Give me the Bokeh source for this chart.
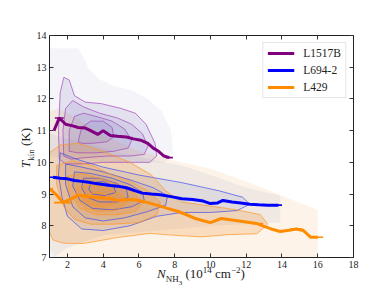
from bokeh.plotting import figure
from bokeh.models import Range1d, LinearAxis, Legend, LegendItem, Div
from bokeh.layouts import row, column
from bokeh.embed import file_html
from bokeh.resources import INLINE

# ---------------- data ----------------
series_names = ["L1517B", "L694-2", "L429"]

# median T_kin vs N_NH3
l1517b_x = [1.25, 1.55, 1.9, 2.3, 2.6, 3.0, 3.3, 3.7, 4.0, 4.4, 4.8, 5.3, 5.7, 6.1, 6.5, 6.8, 7.1, 7.4, 7.7]
l1517b_y = [11.0, 11.4, 11.2, 11.15, 11.1, 11.08, 11.0, 10.88, 11.0, 10.85, 10.82, 10.8, 10.74, 10.7, 10.6, 10.45, 10.35, 10.2, 10.15]

l694_x = [1.2, 1.6, 2.0, 2.4, 2.8, 3.2, 3.6, 4.0, 4.4, 4.8, 5.3, 5.8, 6.2, 6.7, 7.2, 7.8, 8.4, 9.0,
          9.6, 10.0, 10.4, 10.7, 11.2, 11.7, 12.2, 12.7, 13.2, 13.8]
l694_y = [9.53, 9.5, 9.48, 9.43, 9.4, 9.37, 9.33, 9.3, 9.27, 9.25, 9.2, 9.1, 9.03, 9.0, 8.98, 8.92, 8.85, 8.83,
          8.78, 8.7, 8.72, 8.8, 8.75, 8.72, 8.68, 8.66, 8.65, 8.65]

l429_x = [1.0, 1.35, 1.75, 2.2, 2.6, 3.0, 3.5, 4.0, 4.4, 4.8, 5.2, 5.7, 6.1, 6.5, 7.0, 7.6, 8.2, 8.7, 9.2,
          9.6, 10.0, 10.6, 11.0, 11.5, 12.0, 12.6, 13.0, 13.4, 13.9, 14.4, 14.8, 15.2, 15.6, 16.0]
l429_y = [9.17, 9.0, 8.73, 8.85, 8.96, 8.93, 8.9, 8.88, 8.86, 8.8, 8.82, 8.83, 8.78, 8.73, 8.65, 8.55, 8.45, 8.34, 8.22,
          8.16, 8.1, 8.23, 8.2, 8.16, 8.12, 8.07, 7.98, 7.9, 7.82, 7.86, 7.9, 7.85, 7.64, 7.64]

# visible horizontal error bars (centre x, centre y, half width)
l1517b_err_x = [1.55, 7.7]
l1517b_err_y = [11.4, 10.15]
l1517b_err_w = [0.25, 0.2]
l694_err_x = [1.2, 13.8]
l694_err_y = [9.53, 8.65]
l694_err_w = [0.2, 0.2]
l429_err_x = [1.0, 1.75, 12.6, 14.8, 16.0]
l429_err_y = [9.17, 8.73, 8.07, 7.9, 7.64]
l429_err_w = [0.2, 0.5, 0.35, 0.35, 0.3]

# density envelopes (outermost, unlined)
l1517b_env_x = [1.0, 2.6, 2.85, 3.2, 3.75, 4.5, 5.65, 6.5, 7.3, 7.8, 7.9, 7.5, 4.0, 1.0]
l1517b_env_y = [13.6, 13.6, 13.35, 12.95, 12.64, 12.42, 12.26, 12.0, 11.6, 11.0, 10.3, 10.0, 10.0, 10.2]
l694_env_x = [1.0, 3.0, 5.0, 7.0, 8.4, 10.0, 12.0, 13.9, 13.9, 12.0, 10.0, 8.0, 6.0, 4.0, 2.0, 1.2, 1.0]
l694_env_y = [10.9, 10.6, 10.3, 10.05, 9.9, 9.6, 9.2, 8.95, 8.1, 8.05, 8.0, 7.9, 7.8, 7.7, 7.3, 7.0, 7.0]
l429_env_x = [1.0, 1.5, 2.5, 4.0, 6.0, 8.0, 10.0, 12.0, 14.0, 16.0, 16.0, 1.3, 1.0]
l429_env_y = [11.6, 11.7, 11.4, 10.85, 10.35, 10.05, 9.8, 9.4, 8.95, 8.5, 7.0, 7.0, 7.3]

# density contours (outer -> inner)
l1517b_cx = [
    [1.55, 1.5, 1.6, 1.8, 2.1, 2.4, 3.0, 3.9, 5.0, 5.8, 6.4, 6.9, 7.0, 6.6, 5.5, 4.0, 2.8, 1.9],
    [1.8, 1.75, 1.9, 2.3, 2.9, 3.8, 4.8, 5.6, 6.2, 6.5, 6.3, 5.5, 4.3, 3.0, 2.2],
    [2.1, 2.1, 2.4, 2.9, 3.6, 4.5, 5.2, 5.6, 5.4, 4.6, 3.6, 2.6],
    [2.6, 2.8, 3.3, 4.0, 4.5, 4.6, 4.2, 3.4, 2.8],
]
l1517b_cy = [
    [10.1, 11.0, 12.2, 12.68, 12.6, 12.1, 11.9, 11.85, 11.7, 11.55, 11.2, 10.6, 10.2, 10.0, 10.0, 10.0, 9.95, 9.95],
    [10.2, 11.0, 11.7, 11.95, 11.75, 11.55, 11.4, 11.2, 10.9, 10.5, 10.25, 10.2, 10.2, 10.15, 10.1],
    [10.35, 11.0, 11.45, 11.55, 11.45, 11.3, 11.05, 10.7, 10.45, 10.35, 10.3, 10.3],
    [10.65, 11.1, 11.3, 11.3, 11.1, 10.8, 10.65, 10.6, 10.6],
]
l694_cx = [
    [1.6, 2.5, 4.0, 6.0, 8.4, 10.5, 11.8, 12.2, 11.5, 10.0, 8.4, 7.0, 5.5, 4.0, 2.8, 2.0, 1.7, 1.5],
    [1.9, 2.8, 4.0, 5.5, 6.8, 7.6, 7.5, 6.5, 5.2, 4.0, 3.0, 2.3, 1.9],
    [2.4, 3.3, 4.5, 5.5, 6.2, 6.3, 5.6, 4.5, 3.4, 2.7, 2.3],
    [2.9, 3.8, 4.7, 5.3, 5.4, 4.8, 3.8, 3.1, 2.8],
    [3.3, 4.0, 4.6, 4.7, 4.1, 3.4, 3.2],
]
l694_cy = [
    [10.3, 10.1, 9.85, 9.6, 9.36, 9.1, 8.9, 8.68, 8.48, 8.42, 8.42, 8.3, 8.0, 7.85, 7.9, 8.3, 8.9, 9.6],
    [9.95, 9.85, 9.7, 9.45, 9.2, 8.95, 8.65, 8.45, 8.25, 8.15, 8.25, 8.6, 9.3],
    [9.7, 9.65, 9.5, 9.3, 9.05, 8.8, 8.6, 8.5, 8.55, 8.8, 9.25],
    [9.5, 9.5, 9.35, 9.15, 8.9, 8.75, 8.75, 8.9, 9.2],
    [9.35, 9.4, 9.25, 9.05, 8.95, 9.0, 9.15],
]
l429_cx = [
    [1.0, 1.6, 2.6, 4.0, 5.5, 6.7, 7.5, 8.4, 10.0, 11.5, 12.8, 13.2, 12.6, 11.0, 9.5, 8.0, 6.6, 4.8, 2.9, 1.8, 1.2, 1.0],
    [1.4, 2.3, 3.4, 4.5, 5.5, 6.5, 7.2, 7.0, 6.0, 4.5, 3.3, 2.4, 1.8, 1.4],
    [2.0, 2.8, 3.8, 4.8, 5.7, 6.2, 5.8, 4.8, 3.6, 2.7, 2.1],
    [2.5, 3.3, 4.3, 5.1, 5.3, 4.8, 3.8, 3.0, 2.5],
    [3.0, 3.8, 4.5, 4.6, 4.0, 3.3, 2.9],
]
l429_cy = [
    [10.3, 10.55, 10.6, 10.35, 10.0, 9.6, 9.1, 8.75, 8.62, 8.5, 8.35, 8.05, 7.75, 7.72, 7.65, 7.7, 7.76, 7.63, 7.44, 7.45, 7.55, 7.8],
    [9.9, 10.05, 9.9, 9.6, 9.4, 9.1, 8.75, 8.35, 8.1, 8.05, 8.05, 8.2, 8.6, 9.3],
    [9.55, 9.65, 9.5, 9.3, 9.05, 8.7, 8.45, 8.35, 8.35, 8.55, 9.05],
    [9.2, 9.3, 9.15, 8.95, 8.7, 8.5, 8.45, 8.55, 8.85],
    [9.0, 9.05, 8.9, 8.7, 8.6, 8.65, 8.8],
]

x_ticks = [2, 4, 6, 8, 10, 12, 14, 16, 18]
y_ticks = [7, 8, 9, 10, 11, 12, 13, 14]

# ---------------- styles ----------------
SERIF = "Liberation Serif"
med_colors = ["#800080", "#0000ff", "#ff8c00"]
fill_colors = ["#6f5fb0", "#5a78c8", "#f08a20"]
env_alpha = [0.07, 0.09, 0.10]
lvl_alpha = [0.13, 0.12, 0.21]
cline_colors = ["#a040b8", "#3a48f0", "#ff9420"]

X0, X1, Y0, Y1 = 1, 18, 7, 14
FW, FH = 304, 222
YLAB_W = 24
XLAB_H = 20

p = figure(frame_width=FW, frame_height=FH, output_backend="svg", toolbar_location=None,
           x_range=Range1d(X0, X1), y_range=Range1d(Y0, Y1),
           min_border_left=49 - YLAB_W, min_border_right=31, min_border_top=35, min_border_bottom=17)
p.grid.visible = False
p.outline_line_color = "#222222"
p.outline_line_width = 0.9
p.background_fill_color = "white"
p.border_fill_color = None

p.add_layout(LinearAxis(), "right")
p.add_layout(LinearAxis(), "above")

for ax in p.xaxis:
    ax.ticker = x_ticks
    ax.ticker.num_minor_ticks = 4
for ax in p.yaxis:
    ax.ticker = y_ticks
    ax.ticker.num_minor_ticks = 5
for ax in p.xaxis + p.yaxis:
    ax.major_tick_in = 4
    ax.major_tick_out = 0
    ax.minor_tick_in = 2
    ax.minor_tick_out = 0
    ax.axis_line_color = "#222222"
    ax.major_tick_line_color = "#333333"
    ax.minor_tick_line_color = "#555555"
    ax.major_label_text_font = SERIF
    ax.major_label_text_font_size = "10px"
    ax.major_label_text_color = "#222222"
    ax.major_label_standoff = 3
p.right[0].major_label_text_alpha = 0
p.above[0].major_label_text_alpha = 0

envs = [(l1517b_env_x, l1517b_env_y), (l694_env_x, l694_env_y), (l429_env_x, l429_env_y)]
conts = [(l1517b_cx, l1517b_cy), (l694_cx, l694_cy), (l429_cx, l429_cy)]

for i in range(3):
    ex, ey = envs[i]
    p.patch(ex, ey, fill_color=fill_colors[i], fill_alpha=env_alpha[i], line_color=None)
    cx, cy = conts[i]
    p.patches(cx, cy, fill_color=fill_colors[i], fill_alpha=lvl_alpha[i], line_color=None)

for i in range(3):
    cx, cy = conts[i]
    lx = [xs + xs[:1] for xs in cx]
    ly = [ys + ys[:1] for ys in cy]
    p.multi_line(lx, ly, line_color=cline_colors[i], line_alpha=0.75, line_width=0.9)

meds = [(l1517b_x, l1517b_y), (l694_x, l694_y), (l429_x, l429_y)]
errs = [(l1517b_err_x, l1517b_err_y, l1517b_err_w), (l694_err_x, l694_err_y, l694_err_w),
        (l429_err_x, l429_err_y, l429_err_w)]
items = []
for i in range(3):
    mx, my = meds[i]
    r = p.line(mx, my, line_color=med_colors[i], line_width=3)
    exs, eys, ews = errs[i]
    p.segment([a - w for a, w in zip(exs, ews)], eys, [a + w for a, w in zip(exs, ews)], eys,
              line_color=med_colors[i], line_width=1.6)
    items.append(LegendItem(label=series_names[i], renderers=[r]))

legend = Legend(items=items, location="top_right")
legend.label_text_font = SERIF
legend.label_text_font_size = "11.5px"
legend.label_text_color = "#222222"
legend.glyph_width = 27
legend.glyph_height = 12
legend.label_height = 12
legend.spacing = 5
legend.padding = 4
legend.margin = 7
legend.label_standoff = 9
legend.border_line_color = "#cccccc"
legend.border_line_width = 1
legend.background_fill_alpha = 0.85
p.add_layout(legend)

# ---------------- axis labels (HTML text with sub/superscripts) ----------------
FONT_CSS = "font-family:'Liberation Serif',serif;color:#222;white-space:nowrap;line-height:13px;"
x_label_html = (
    f'<div style="position:absolute;left:{49 - YLAB_W}px;top:-7px;width:{FW}px;text-align:center;'
    f'font-size:13px;{FONT_CSS}">'
    '<i>N</i><sub style="font-size:9px;line-height:0">NH<sub style="font-size:7px;line-height:0">3</sub></sub>'
    ' (10<sup style="font-size:9px;line-height:0">14</sup> cm<sup style="font-size:9px;line-height:0">\u22122</sup>)'
    '</div>'
)
y_label_html = (
    f'<div style="position:absolute;left:19px;top:168px;transform:rotate(-90deg);transform-origin:left top;'
    f'font-size:13px;{FONT_CSS}">'
    '<i>T</i><sub style="font-size:9px;line-height:0">kin</sub> (K)'
    '</div>'
)

x_div = Div(text=x_label_html, width=49 - YLAB_W + FW + 31, height=XLAB_H, margin=0,
            styles={"overflow": "visible", "position": "relative"})
y_div = Div(text=y_label_html, width=YLAB_W, height=294, margin=0,
            styles={"overflow": "visible", "position": "relative", "z-index": "10"})

layout = row(y_div, column(p, x_div, spacing=0), spacing=0)

open("out.html", "w").write(file_html(layout, INLINE))
